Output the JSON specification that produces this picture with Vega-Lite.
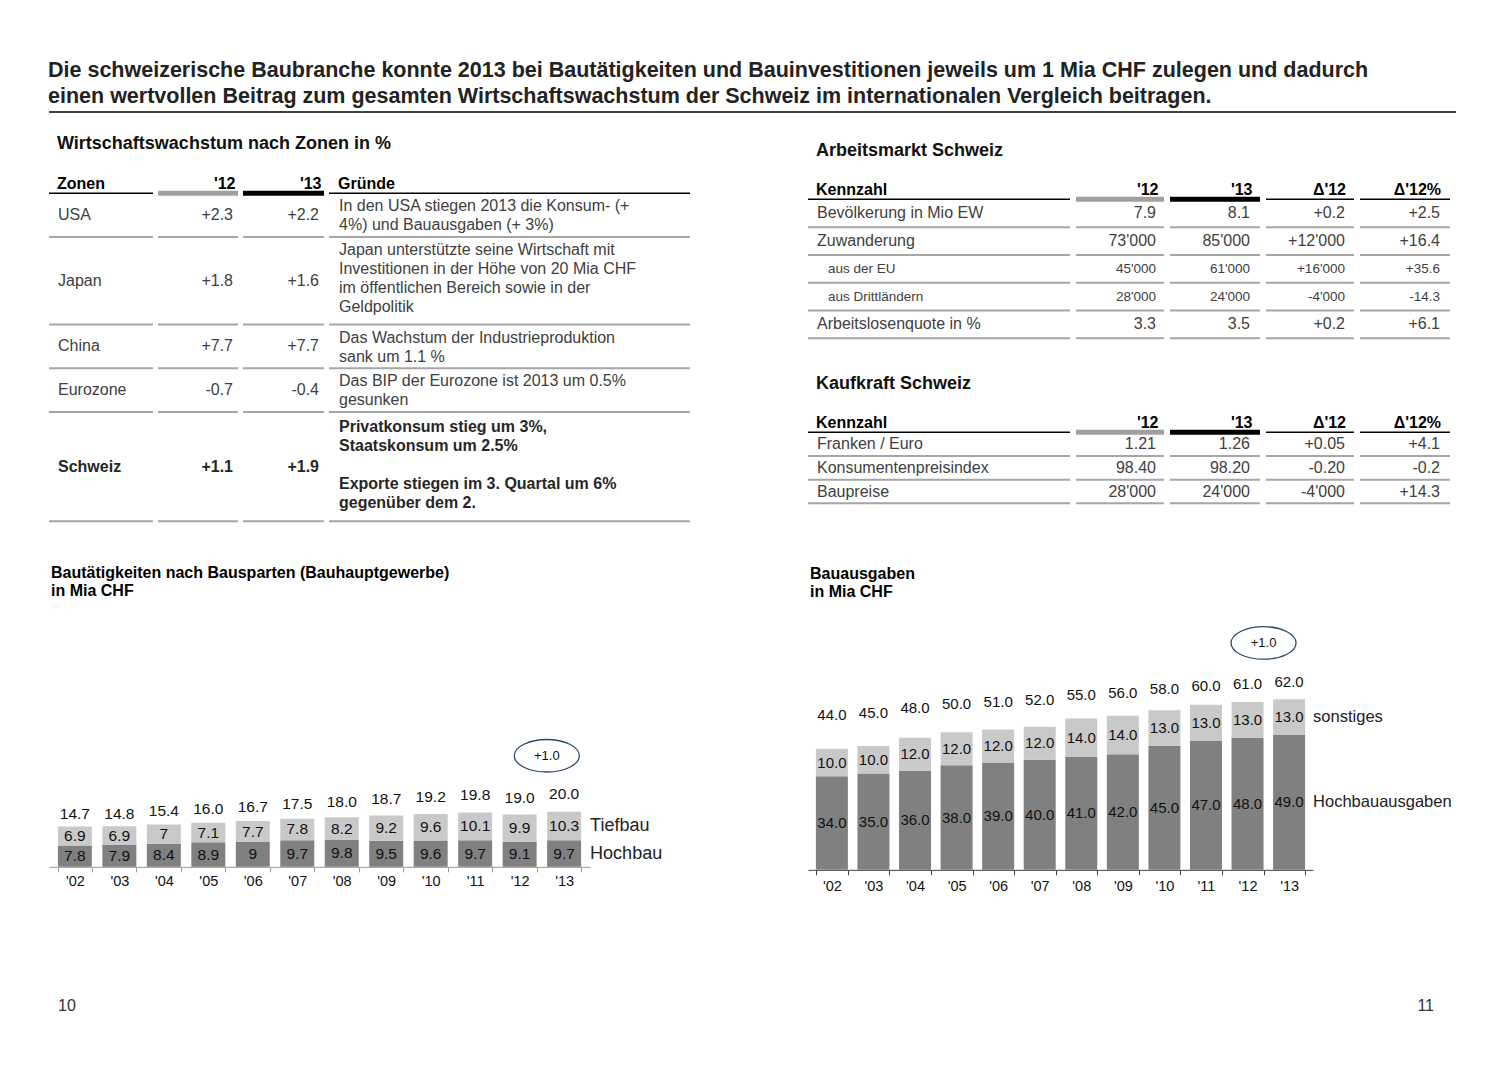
{
  "$schema": "https://vega.github.io/schema/vega-lite/v6.json",
  "background": "white",
  "padding": {"left": 48, "top": 59, "right": 10, "bottom": 10},
  "config": {
    "view": {"stroke": null},
    "font": "Liberation Sans",
    "title": {"font": "Liberation Sans"},
    "text": {"font": "Liberation Sans"}
  },
  "title": {
    "text": ["Die schweizerische Baubranche konnte 2013 bei Bautätigkeiten und Bauinvestitionen jeweils um 1 Mia CHF zulegen und dadurch", "einen wertvollen Beitrag zum gesamten Wirtschaftswachstum der Schweiz im internationalen Vergleich beitragen."],
    "anchor": "start", "fontSize": 21.5, "fontWeight": "bold", "color": "#222222", "lineHeight": 26, "offset": 4
  },
  "datasets": {
    "zonen": [
      {"zone": "USA", "v12": "+2.3", "v13": "+2.2", "gruende": ["In den USA stiegen  2013 die Konsum- (+", "4%) und Bauausgaben (+ 3%)"]},
      {"zone": "Japan", "v12": "+1.8", "v13": "+1.6", "gruende": ["Japan unterstützte seine Wirtschaft mit", "Investitionen in der Höhe von 20 Mia CHF", "im öffentlichen Bereich sowie in der", "Geldpolitik"]},
      {"zone": "China", "v12": "+7.7", "v13": "+7.7", "gruende": ["Das Wachstum der Industrieproduktion", "sank um 1.1 %"]},
      {"zone": "Eurozone", "v12": "-0.7", "v13": "-0.4", "gruende": ["Das BIP der Eurozone ist 2013 um 0.5%", "gesunken"]},
      {"zone": "Schweiz", "v12": "+1.1", "v13": "+1.9", "gruende": ["Privatkonsum stieg um 3%,", "Staatskonsum um 2.5%", "\u200b", "Exporte stiegen im 3. Quartal um 6%", "gegenüber dem 2."]}
    ],
    "arbeit": [
      {"k": "Bevölkerung in Mio EW", "v12": "7.9", "v13": "8.1", "d12": "+0.2", "d12p": "+2.5", "ebene": 1},
      {"k": "Zuwanderung", "v12": "73'000", "v13": "85'000", "d12": "+12'000", "d12p": "+16.4", "ebene": 1},
      {"k": "aus der EU", "v12": "45'000", "v13": "61'000", "d12": "+16'000", "d12p": "+35.6", "ebene": 2},
      {"k": "aus Drittländern", "v12": "28'000", "v13": "24'000", "d12": "-4'000", "d12p": "-14.3", "ebene": 2},
      {"k": "Arbeitslosenquote in %", "v12": "3.3", "v13": "3.5", "d12": "+0.2", "d12p": "+6.1", "ebene": 1}
    ],
    "kaufkraft": [
      {"k": "Franken / Euro", "v12": "1.21", "v13": "1.26", "d12": "+0.05", "d12p": "+4.1", "ebene": 1},
      {"k": "Konsumentenpreisindex", "v12": "98.40", "v13": "98.20", "d12": "-0.20", "d12p": "-0.2", "ebene": 1},
      {"k": "Baupreise", "v12": "28'000", "v13": "24'000", "d12": "-4'000", "d12p": "+14.3", "ebene": 1}
    ],
    "bau": [
      {"jahr": "'02", "sparte": "Hochbau", "wert": 7.8}, {"jahr": "'02", "sparte": "Tiefbau", "wert": 6.9},
      {"jahr": "'03", "sparte": "Hochbau", "wert": 7.9}, {"jahr": "'03", "sparte": "Tiefbau", "wert": 6.9},
      {"jahr": "'04", "sparte": "Hochbau", "wert": 8.4}, {"jahr": "'04", "sparte": "Tiefbau", "wert": 7},
      {"jahr": "'05", "sparte": "Hochbau", "wert": 8.9}, {"jahr": "'05", "sparte": "Tiefbau", "wert": 7.1},
      {"jahr": "'06", "sparte": "Hochbau", "wert": 9}, {"jahr": "'06", "sparte": "Tiefbau", "wert": 7.7},
      {"jahr": "'07", "sparte": "Hochbau", "wert": 9.7}, {"jahr": "'07", "sparte": "Tiefbau", "wert": 7.8},
      {"jahr": "'08", "sparte": "Hochbau", "wert": 9.8}, {"jahr": "'08", "sparte": "Tiefbau", "wert": 8.2},
      {"jahr": "'09", "sparte": "Hochbau", "wert": 9.5}, {"jahr": "'09", "sparte": "Tiefbau", "wert": 9.2},
      {"jahr": "'10", "sparte": "Hochbau", "wert": 9.6}, {"jahr": "'10", "sparte": "Tiefbau", "wert": 9.6},
      {"jahr": "'11", "sparte": "Hochbau", "wert": 9.7}, {"jahr": "'11", "sparte": "Tiefbau", "wert": 10.1},
      {"jahr": "'12", "sparte": "Hochbau", "wert": 9.1}, {"jahr": "'12", "sparte": "Tiefbau", "wert": 9.9},
      {"jahr": "'13", "sparte": "Hochbau", "wert": 9.7}, {"jahr": "'13", "sparte": "Tiefbau", "wert": 10.3}
    ],
    "ausgaben": [
      {"jahr": "'02", "art": "Hochbauausgaben", "wert": 34}, {"jahr": "'02", "art": "sonstiges", "wert": 10},
      {"jahr": "'03", "art": "Hochbauausgaben", "wert": 35}, {"jahr": "'03", "art": "sonstiges", "wert": 10},
      {"jahr": "'04", "art": "Hochbauausgaben", "wert": 36}, {"jahr": "'04", "art": "sonstiges", "wert": 12},
      {"jahr": "'05", "art": "Hochbauausgaben", "wert": 38}, {"jahr": "'05", "art": "sonstiges", "wert": 12},
      {"jahr": "'06", "art": "Hochbauausgaben", "wert": 39}, {"jahr": "'06", "art": "sonstiges", "wert": 12},
      {"jahr": "'07", "art": "Hochbauausgaben", "wert": 40}, {"jahr": "'07", "art": "sonstiges", "wert": 12},
      {"jahr": "'08", "art": "Hochbauausgaben", "wert": 41}, {"jahr": "'08", "art": "sonstiges", "wert": 14},
      {"jahr": "'09", "art": "Hochbauausgaben", "wert": 42}, {"jahr": "'09", "art": "sonstiges", "wert": 14},
      {"jahr": "'10", "art": "Hochbauausgaben", "wert": 45}, {"jahr": "'10", "art": "sonstiges", "wert": 13},
      {"jahr": "'11", "art": "Hochbauausgaben", "wert": 47}, {"jahr": "'11", "art": "sonstiges", "wert": 13},
      {"jahr": "'12", "art": "Hochbauausgaben", "wert": 48}, {"jahr": "'12", "art": "sonstiges", "wert": 13},
      {"jahr": "'13", "art": "Hochbauausgaben", "wert": 49}, {"jahr": "'13", "art": "sonstiges", "wert": 13}
    ]
  },
  "spacing": 102,
  "vconcat": [
    {
      "spacing": 15.35,
      "vconcat": [
        {
          "width": 1407, "height": 1,
          "data": {"values": [{}]},
          "mark": {"type": "rule", "color": "#000000", "strokeWidth": 1.3},
          "encoding": {"y": {"datum": 0, "type": "quantitative", "scale": {"domain": [0, 1]}, "axis": null}}
        },
        {
          "spacing": 116,
          "hconcat": [
            {
              "spacing": 42,
              "vconcat": [
                {
                  "spacing": 5,
                  "vconcat": [
                    {"width": 10, "height": 1, "data": {"values": [{}]}, "mark": {"type": "point", "opacity": 0, "size": 0}},
                    {
                      "title": {"text": "Wirtschaftswachstum nach Zonen in %", "anchor": "start", "dx": 9, "fontSize": 18, "fontWeight": "bold", "color": "#111111", "offset": 23},
                      "data": {"name": "zonen"},
                      "transform": [
                        {"window": [{"op": "row_number", "as": "nr"}]},
                        {"flatten": ["gruende"], "as": ["zeile"]},
                        {"aggregate": [{"op": "count", "as": "n"}], "groupby": ["nr", "zone"]},
                        {"stack": "n", "groupby": [], "sort": [{"field": "nr"}], "as": ["y0", "y1"]},
                        {"fold": ["y0", "y1"], "as": ["kante", "pos"]},
                        {"aggregate": [{"op": "mean", "field": "pos", "as": "mitte"}, {"op": "min", "field": "pos", "as": "oben"}, {"op": "max", "field": "pos", "as": "unten"}], "groupby": ["nr", "zone"]},
                        {"lookup": "zone", "from": {"data": {"name": "zonen"}, "key": "zone", "fields": ["v12", "v13", "gruende"]}}
                      ],
                      "bounds": "flush",
                      "spacing": 5,
                      "hconcat": [
                        {
                          "width": 104, "height": 328,
                          "title": {"text": "Zonen", "anchor": "start", "dx": 9, "fontSize": 16, "fontWeight": "bold", "color": "#000000", "offset": 0.5},
                          "layer": [
                            {"transform": [{"filter": "datum.zone !== 'Schweiz'"}], "mark": {"type": "text", "align": "left", "dx": 9, "fontSize": 16, "color": "#404040"}, "encoding": {"x": {"datum": 0, "type": "quantitative", "scale": {"domain": [0, 1]}, "axis": null}, "y": {"field": "mitte", "type": "quantitative", "axis": null, "scale": {"reverse": true, "nice": false, "zero": true}}, "text": {"field": "zone", "type": "nominal"}}},
                            {"transform": [{"filter": "datum.zone === 'Schweiz'"}], "mark": {"type": "text", "align": "left", "dx": 9, "fontSize": 16, "fontWeight": "bold", "color": "#262626"}, "encoding": {"x": {"datum": 0, "type": "quantitative", "scale": {"domain": [0, 1]}, "axis": null}, "y": {"field": "mitte", "type": "quantitative", "axis": null, "scale": {"reverse": true, "nice": false, "zero": true}}, "text": {"field": "zone", "type": "nominal"}}},
                            {"data": {"values": [{}]}, "mark": {"type": "rule", "color": "#000000", "strokeWidth": 1.5}, "encoding": {"y": {"datum": 0, "type": "quantitative", "axis": null, "scale": {"reverse": true, "nice": false, "zero": true}}}},
                            {"mark": {"type": "rule", "color": "#A6A6A6", "strokeWidth": 2}, "encoding": {"y": {"field": "unten", "type": "quantitative", "axis": null, "scale": {"reverse": true, "nice": false, "zero": true}}}}
                          ]
                        },
                        {
                          "width": 80, "height": 328,
                          "title": {"text": "'12", "anchor": "end", "dx": -5, "fontSize": 16, "fontWeight": "bold", "color": "#000000", "offset": -1},
                          "layer": [
                            {"transform": [{"filter": "datum.zone !== 'Schweiz'"}], "mark": {"type": "text", "align": "right", "dx": -5, "fontSize": 16, "color": "#404040"}, "encoding": {"x": {"datum": 1, "type": "quantitative", "scale": {"domain": [0, 1]}, "axis": null}, "y": {"field": "mitte", "type": "quantitative", "axis": null, "scale": {"reverse": true, "nice": false, "zero": true}}, "text": {"field": "v12", "type": "nominal"}}},
                            {"transform": [{"filter": "datum.zone === 'Schweiz'"}], "mark": {"type": "text", "align": "right", "dx": -5, "fontSize": 16, "fontWeight": "bold", "color": "#262626"}, "encoding": {"x": {"datum": 1, "type": "quantitative", "scale": {"domain": [0, 1]}, "axis": null}, "y": {"field": "mitte", "type": "quantitative", "axis": null, "scale": {"reverse": true, "nice": false, "zero": true}}, "text": {"field": "v12", "type": "nominal"}}},
                            {"data": {"values": [{}]}, "mark": {"type": "rule", "color": "#A0A0A0", "strokeWidth": 5}, "encoding": {"y": {"datum": 0, "type": "quantitative", "axis": null, "scale": {"reverse": true, "nice": false, "zero": true}}}},
                            {"mark": {"type": "rule", "color": "#A6A6A6", "strokeWidth": 2}, "encoding": {"y": {"field": "unten", "type": "quantitative", "axis": null, "scale": {"reverse": true, "nice": false, "zero": true}}}}
                          ]
                        },
                        {
                          "width": 81, "height": 328,
                          "title": {"text": "'13", "anchor": "end", "dx": -5, "fontSize": 16, "fontWeight": "bold", "color": "#000000", "offset": -1},
                          "layer": [
                            {"transform": [{"filter": "datum.zone !== 'Schweiz'"}], "mark": {"type": "text", "align": "right", "dx": -5, "fontSize": 16, "color": "#404040"}, "encoding": {"x": {"datum": 1, "type": "quantitative", "scale": {"domain": [0, 1]}, "axis": null}, "y": {"field": "mitte", "type": "quantitative", "axis": null, "scale": {"reverse": true, "nice": false, "zero": true}}, "text": {"field": "v13", "type": "nominal"}}},
                            {"transform": [{"filter": "datum.zone === 'Schweiz'"}], "mark": {"type": "text", "align": "right", "dx": -5, "fontSize": 16, "fontWeight": "bold", "color": "#262626"}, "encoding": {"x": {"datum": 1, "type": "quantitative", "scale": {"domain": [0, 1]}, "axis": null}, "y": {"field": "mitte", "type": "quantitative", "axis": null, "scale": {"reverse": true, "nice": false, "zero": true}}, "text": {"field": "v13", "type": "nominal"}}},
                            {"data": {"values": [{}]}, "mark": {"type": "rule", "color": "#000000", "strokeWidth": 5}, "encoding": {"y": {"datum": 0, "type": "quantitative", "axis": null, "scale": {"reverse": true, "nice": false, "zero": true}}}},
                            {"mark": {"type": "rule", "color": "#A6A6A6", "strokeWidth": 2}, "encoding": {"y": {"field": "unten", "type": "quantitative", "axis": null, "scale": {"reverse": true, "nice": false, "zero": true}}}}
                          ]
                        },
                        {
                          "width": 361, "height": 328,
                          "title": {"text": "Gründe", "anchor": "start", "dx": 10, "fontSize": 16, "fontWeight": "bold", "color": "#000000", "offset": 0.5},
                          "layer": [
                            {"transform": [{"filter": "datum.zone !== 'Schweiz'"}], "mark": {"type": "text", "align": "left", "dx": 10, "dy": 13, "fontSize": 16, "lineHeight": 19, "color": "#404040"}, "encoding": {"x": {"datum": 0, "type": "quantitative", "scale": {"domain": [0, 1]}, "axis": null}, "y": {"field": "oben", "type": "quantitative", "axis": null, "scale": {"reverse": true, "nice": false, "zero": true}}, "text": {"field": "gruende", "type": "nominal"}}},
                            {"transform": [{"filter": "datum.zone === 'Schweiz'"}], "mark": {"type": "text", "align": "left", "dx": 10, "dy": 15, "fontSize": 16, "lineHeight": 19, "fontWeight": "bold", "color": "#262626"}, "encoding": {"x": {"datum": 0, "type": "quantitative", "scale": {"domain": [0, 1]}, "axis": null}, "y": {"field": "oben", "type": "quantitative", "axis": null, "scale": {"reverse": true, "nice": false, "zero": true}}, "text": {"field": "gruende", "type": "nominal"}}},
                            {"data": {"values": [{}]}, "mark": {"type": "rule", "color": "#000000", "strokeWidth": 1.5}, "encoding": {"y": {"datum": 0, "type": "quantitative", "axis": null, "scale": {"reverse": true, "nice": false, "zero": true}}}},
                            {"mark": {"type": "rule", "color": "#A6A6A6", "strokeWidth": 2}, "encoding": {"y": {"field": "unten", "type": "quantitative", "axis": null, "scale": {"reverse": true, "nice": false, "zero": true}}}}
                          ]
                        }
                      ]
                    }
                  ]
                },
                {
                  "width": 541, "height": 247.5,
                  "title": {"text": ["Bautätigkeiten nach Bausparten (Bauhauptgewerbe)", "in Mia CHF"], "anchor": "start", "dx": 2, "fontSize": 16, "fontWeight": "bold", "color": "#000000", "lineHeight": 18, "offset": 20.5},
                  "data": {"name": "bau"},
                  "resolve": {"scale": {"y": "independent"}},
                  "layer": [
                    {
                      "layer": [
                        {
                          "mark": {"type": "bar"},
                          "encoding": {
                            "x": {"field": "jahr", "type": "ordinal", "scale": {"type": "band", "paddingInner": 0.236, "paddingOuter": 0.2}, "axis": {"title": null, "labelAngle": 0, "labelFontSize": 14.5, "labelColor": "#111111", "domainColor": "#999999", "tickColor": "#999999", "tickBand": "extent", "tickSize": 5, "labelPadding": 3}},
                            "y": {"field": "wert", "type": "quantitative", "stack": "zero", "scale": {"domain": [0, 90]}, "axis": null},
                            "color": {"field": "sparte", "type": "nominal", "scale": {"domain": ["Hochbau", "Tiefbau"], "range": ["#808080", "#C9C9C9"]}, "legend": null},
                            "order": {"field": "sparte", "type": "nominal", "sort": "ascending"}
                          }
                        },
                        {
                          "transform": [
                            {"stack": "wert", "groupby": ["jahr"], "sort": [{"field": "sparte"}], "as": ["s0", "s1"]},
                            {"fold": ["s0", "s1"], "as": ["kante", "pos"]},
                            {"aggregate": [{"op": "mean", "field": "pos", "as": "mitte"}], "groupby": ["jahr", "sparte", "wert"]}
                          ],
                          "mark": {"type": "text", "fontSize": 15.5, "color": "#111111"},
                          "encoding": {
                            "x": {"field": "jahr", "type": "ordinal"},
                            "y": {"field": "mitte", "type": "quantitative", "scale": {"domain": [0, 90]}, "axis": null},
                            "text": {"field": "wert", "type": "nominal"}
                          }
                        },
                        {
                          "transform": [
                            {"stack": "wert", "groupby": ["jahr"], "sort": [{"field": "sparte"}], "as": ["s0", "s1"]},
                            {"fold": ["s0", "s1"], "as": ["kante", "pos"]},
                            {"aggregate": [{"op": "mean", "field": "pos", "as": "mitte"}], "groupby": ["jahr", "sparte", "wert"]},
                            {"filter": "datum.jahr === \"'13\""}
                          ],
                          "mark": {"type": "text", "align": "left", "dx": 9, "fontSize": 18, "color": "#222222"},
                          "encoding": {
                            "x": {"field": "jahr", "type": "ordinal", "bandPosition": 1},
                            "y": {"field": "mitte", "type": "quantitative", "scale": {"domain": [0, 90]}, "axis": null},
                            "text": {"field": "sparte", "type": "nominal"}
                          }
                        },
                        {
                          "data": {"values": [{"jahr": "'12", "differenz": "+1.0"}]},
                          "mark": {"type": "point", "shape": "M -1 0 C -1 -0.276 -0.552 -0.5 0 -0.5 C 0.552 -0.5 1 -0.276 1 0 C 1 0.276 0.552 0.5 0 0.5 C -0.552 0.5 -1 0.276 -1 0 Z", "size": 4225, "filled": false, "stroke": "#2B4870", "strokeWidth": 1.3, "opacity": 1},
                          "encoding": {
                            "x": {"field": "jahr", "type": "ordinal", "bandPosition": 1.3},
                            "y": {"datum": 40.4, "type": "quantitative", "scale": {"domain": [0, 90]}, "axis": null}
                          }
                        },
                        {
                          "data": {"values": [{"jahr": "'12", "differenz": "+1.0"}]},
                          "mark": {"type": "text", "fontSize": 13, "color": "#111111"},
                          "encoding": {
                            "x": {"field": "jahr", "type": "ordinal", "bandPosition": 1.3},
                            "y": {"datum": 40.4, "type": "quantitative", "scale": {"domain": [0, 90]}, "axis": null},
                            "text": {"field": "differenz", "type": "nominal"}
                          }
                        }
                      ]
                    },
                    {
                      "transform": [{"aggregate": [{"op": "sum", "field": "wert", "as": "summe"}], "groupby": ["jahr"]}],
                      "mark": {"type": "text", "fontSize": 15.5, "color": "#111111"},
                      "encoding": {
                        "x": {"field": "jahr", "type": "ordinal"},
                        "y": {"field": "summe", "type": "quantitative", "scale": {"domain": [0.5, 67]}, "axis": null},
                        "text": {"field": "summe", "type": "quantitative", "format": ".1f"}
                      }
                    }
                  ]
                }
              ]
            },
            {
              "spacing": 61,
              "vconcat": [
                {
                  "spacing": 35,
                  "vconcat": [
                    {
                      "spacing": 12,
                      "vconcat": [
                        {"width": 10, "height": 1, "data": {"values": [{}]}, "mark": {"type": "point", "opacity": 0, "size": 0}},
                        {
                          "title": {"text": "Arbeitsmarkt Schweiz", "anchor": "start", "dx": 9, "fontSize": 18, "fontWeight": "bold", "color": "#111111", "offset": 22},
                          "data": {"name": "arbeit"},
                          "transform": [{"window": [{"op": "row_number", "as": "nr"}]}],
                          "bounds": "flush",
                          "spacing": 6,
                          "hconcat": [
                            {
                              "width": 262, "height": 139,
                              "title": {"text": "Kennzahl", "anchor": "start", "dx": 9, "fontSize": 16, "fontWeight": "bold", "color": "#000000", "offset": 0.5},
                              "layer": [
                                {"transform": [{"filter": "datum.ebene === 1"}], "mark": {"type": "text", "align": "left", "dx": 9, "fontSize": 16, "color": "#404040"}, "encoding": {"x": {"datum": 0, "type": "quantitative", "scale": {"domain": [0, 1]}, "axis": null}, "y": {"field": "nr", "type": "ordinal", "axis": null, "scale": {"type": "band", "paddingInner": 0, "paddingOuter": 0}}, "text": {"field": "k", "type": "nominal"}}},
                                {"transform": [{"filter": "datum.ebene === 2"}], "mark": {"type": "text", "align": "left", "dx": 20, "fontSize": 13.5, "color": "#404040"}, "encoding": {"x": {"datum": 0, "type": "quantitative", "scale": {"domain": [0, 1]}, "axis": null}, "y": {"field": "nr", "type": "ordinal", "axis": null, "scale": {"type": "band", "paddingInner": 0, "paddingOuter": 0}}, "text": {"field": "k", "type": "nominal"}}},
                                {"transform": [{"filter": "datum.nr === 1"}], "mark": {"type": "rule", "color": "#000000", "strokeWidth": 1.5}, "encoding": {"y": {"field": "nr", "type": "ordinal", "axis": null, "bandPosition": 0, "scale": {"type": "band", "paddingInner": 0, "paddingOuter": 0}}}},
                                {"mark": {"type": "rule", "color": "#A6A6A6", "strokeWidth": 2}, "encoding": {"y": {"field": "nr", "type": "ordinal", "axis": null, "bandPosition": 1, "scale": {"type": "band", "paddingInner": 0, "paddingOuter": 0}}}}
                              ]
                            },
                            {
                              "width": 88, "height": 139,
                              "title": {"text": "'12", "anchor": "end", "dx": -8, "fontSize": 16, "fontWeight": "bold", "color": "#000000", "offset": -1},
                              "layer": [
                                {"transform": [{"filter": "datum.ebene === 1"}], "mark": {"type": "text", "align": "right", "dx": -8, "fontSize": 16, "color": "#404040"}, "encoding": {"x": {"datum": 1, "type": "quantitative", "scale": {"domain": [0, 1]}, "axis": null}, "y": {"field": "nr", "type": "ordinal", "axis": null, "scale": {"type": "band", "paddingInner": 0, "paddingOuter": 0}}, "text": {"field": "v12", "type": "nominal"}}},
                                {"transform": [{"filter": "datum.ebene === 2"}], "mark": {"type": "text", "align": "right", "dx": -8, "fontSize": 13.5, "color": "#404040"}, "encoding": {"x": {"datum": 1, "type": "quantitative", "scale": {"domain": [0, 1]}, "axis": null}, "y": {"field": "nr", "type": "ordinal", "axis": null, "scale": {"type": "band", "paddingInner": 0, "paddingOuter": 0}}, "text": {"field": "v12", "type": "nominal"}}},
                                {"transform": [{"filter": "datum.nr === 1"}], "mark": {"type": "rule", "color": "#A0A0A0", "strokeWidth": 5}, "encoding": {"y": {"field": "nr", "type": "ordinal", "axis": null, "bandPosition": 0, "scale": {"type": "band", "paddingInner": 0, "paddingOuter": 0}}}},
                                {"mark": {"type": "rule", "color": "#A6A6A6", "strokeWidth": 2}, "encoding": {"y": {"field": "nr", "type": "ordinal", "axis": null, "bandPosition": 1, "scale": {"type": "band", "paddingInner": 0, "paddingOuter": 0}}}}
                              ]
                            },
                            {
                              "width": 90, "height": 139,
                              "title": {"text": "'13", "anchor": "end", "dx": -10, "fontSize": 16, "fontWeight": "bold", "color": "#000000", "offset": -1},
                              "layer": [
                                {"transform": [{"filter": "datum.ebene === 1"}], "mark": {"type": "text", "align": "right", "dx": -10, "fontSize": 16, "color": "#404040"}, "encoding": {"x": {"datum": 1, "type": "quantitative", "scale": {"domain": [0, 1]}, "axis": null}, "y": {"field": "nr", "type": "ordinal", "axis": null, "scale": {"type": "band", "paddingInner": 0, "paddingOuter": 0}}, "text": {"field": "v13", "type": "nominal"}}},
                                {"transform": [{"filter": "datum.ebene === 2"}], "mark": {"type": "text", "align": "right", "dx": -10, "fontSize": 13.5, "color": "#404040"}, "encoding": {"x": {"datum": 1, "type": "quantitative", "scale": {"domain": [0, 1]}, "axis": null}, "y": {"field": "nr", "type": "ordinal", "axis": null, "scale": {"type": "band", "paddingInner": 0, "paddingOuter": 0}}, "text": {"field": "v13", "type": "nominal"}}},
                                {"transform": [{"filter": "datum.nr === 1"}], "mark": {"type": "rule", "color": "#000000", "strokeWidth": 5}, "encoding": {"y": {"field": "nr", "type": "ordinal", "axis": null, "bandPosition": 0, "scale": {"type": "band", "paddingInner": 0, "paddingOuter": 0}}}},
                                {"mark": {"type": "rule", "color": "#A6A6A6", "strokeWidth": 2}, "encoding": {"y": {"field": "nr", "type": "ordinal", "axis": null, "bandPosition": 1, "scale": {"type": "band", "paddingInner": 0, "paddingOuter": 0}}}}
                              ]
                            },
                            {
                              "width": 88, "height": 139,
                              "title": {"text": "Δ'12", "anchor": "end", "dx": -9, "fontSize": 16, "fontWeight": "bold", "color": "#000000", "offset": 0.5},
                              "layer": [
                                {"transform": [{"filter": "datum.ebene === 1"}], "mark": {"type": "text", "align": "right", "dx": -9, "fontSize": 16, "color": "#404040"}, "encoding": {"x": {"datum": 1, "type": "quantitative", "scale": {"domain": [0, 1]}, "axis": null}, "y": {"field": "nr", "type": "ordinal", "axis": null, "scale": {"type": "band", "paddingInner": 0, "paddingOuter": 0}}, "text": {"field": "d12", "type": "nominal"}}},
                                {"transform": [{"filter": "datum.ebene === 2"}], "mark": {"type": "text", "align": "right", "dx": -9, "fontSize": 13.5, "color": "#404040"}, "encoding": {"x": {"datum": 1, "type": "quantitative", "scale": {"domain": [0, 1]}, "axis": null}, "y": {"field": "nr", "type": "ordinal", "axis": null, "scale": {"type": "band", "paddingInner": 0, "paddingOuter": 0}}, "text": {"field": "d12", "type": "nominal"}}},
                                {"transform": [{"filter": "datum.nr === 1"}], "mark": {"type": "rule", "color": "#000000", "strokeWidth": 1.5}, "encoding": {"y": {"field": "nr", "type": "ordinal", "axis": null, "bandPosition": 0, "scale": {"type": "band", "paddingInner": 0, "paddingOuter": 0}}}},
                                {"mark": {"type": "rule", "color": "#A6A6A6", "strokeWidth": 2}, "encoding": {"y": {"field": "nr", "type": "ordinal", "axis": null, "bandPosition": 1, "scale": {"type": "band", "paddingInner": 0, "paddingOuter": 0}}}}
                              ]
                            },
                            {
                              "width": 90, "height": 139,
                              "title": {"text": "Δ'12%", "anchor": "end", "dx": -10, "fontSize": 16, "fontWeight": "bold", "color": "#000000", "offset": 0.5},
                              "layer": [
                                {"transform": [{"filter": "datum.ebene === 1"}], "mark": {"type": "text", "align": "right", "dx": -10, "fontSize": 16, "color": "#404040"}, "encoding": {"x": {"datum": 1, "type": "quantitative", "scale": {"domain": [0, 1]}, "axis": null}, "y": {"field": "nr", "type": "ordinal", "axis": null, "scale": {"type": "band", "paddingInner": 0, "paddingOuter": 0}}, "text": {"field": "d12p", "type": "nominal"}}},
                                {"transform": [{"filter": "datum.ebene === 2"}], "mark": {"type": "text", "align": "right", "dx": -10, "fontSize": 13.5, "color": "#404040"}, "encoding": {"x": {"datum": 1, "type": "quantitative", "scale": {"domain": [0, 1]}, "axis": null}, "y": {"field": "nr", "type": "ordinal", "axis": null, "scale": {"type": "band", "paddingInner": 0, "paddingOuter": 0}}, "text": {"field": "d12p", "type": "nominal"}}},
                                {"transform": [{"filter": "datum.nr === 1"}], "mark": {"type": "rule", "color": "#000000", "strokeWidth": 1.5}, "encoding": {"y": {"field": "nr", "type": "ordinal", "axis": null, "bandPosition": 0, "scale": {"type": "band", "paddingInner": 0, "paddingOuter": 0}}}},
                                {"mark": {"type": "rule", "color": "#A6A6A6", "strokeWidth": 2}, "encoding": {"y": {"field": "nr", "type": "ordinal", "axis": null, "bandPosition": 1, "scale": {"type": "band", "paddingInner": 0, "paddingOuter": 0}}}}
                              ]
                            }
                          ]
                        }
                      ]
                    },
                    {
                      "title": {"text": "Kaufkraft Schweiz", "anchor": "start", "dx": 9, "fontSize": 18, "fontWeight": "bold", "color": "#111111", "offset": 22},
                      "data": {"name": "kaufkraft"},
                      "transform": [{"window": [{"op": "row_number", "as": "nr"}]}],
                      "bounds": "flush",
                      "spacing": 6,
                      "hconcat": [
                        {
                          "width": 262, "height": 71,
                          "title": {"text": "Kennzahl", "anchor": "start", "dx": 9, "fontSize": 16, "fontWeight": "bold", "color": "#000000", "offset": 0.5},
                          "layer": [
                            {"mark": {"type": "text", "align": "left", "dx": 9, "fontSize": 16, "color": "#404040"}, "encoding": {"x": {"datum": 0, "type": "quantitative", "scale": {"domain": [0, 1]}, "axis": null}, "y": {"field": "nr", "type": "ordinal", "axis": null, "scale": {"type": "band", "paddingInner": 0, "paddingOuter": 0}}, "text": {"field": "k", "type": "nominal"}}},
                            {"transform": [{"filter": "datum.nr === 1"}], "mark": {"type": "rule", "color": "#000000", "strokeWidth": 1.5}, "encoding": {"y": {"field": "nr", "type": "ordinal", "axis": null, "bandPosition": 0, "scale": {"type": "band", "paddingInner": 0, "paddingOuter": 0}}}},
                            {"mark": {"type": "rule", "color": "#A6A6A6", "strokeWidth": 2}, "encoding": {"y": {"field": "nr", "type": "ordinal", "axis": null, "bandPosition": 1, "scale": {"type": "band", "paddingInner": 0, "paddingOuter": 0}}}}
                          ]
                        },
                        {
                          "width": 88, "height": 71,
                          "title": {"text": "'12", "anchor": "end", "dx": -8, "fontSize": 16, "fontWeight": "bold", "color": "#000000", "offset": -1},
                          "layer": [
                            {"mark": {"type": "text", "align": "right", "dx": -8, "fontSize": 16, "color": "#404040"}, "encoding": {"x": {"datum": 1, "type": "quantitative", "scale": {"domain": [0, 1]}, "axis": null}, "y": {"field": "nr", "type": "ordinal", "axis": null, "scale": {"type": "band", "paddingInner": 0, "paddingOuter": 0}}, "text": {"field": "v12", "type": "nominal"}}},
                            {"transform": [{"filter": "datum.nr === 1"}], "mark": {"type": "rule", "color": "#A0A0A0", "strokeWidth": 5}, "encoding": {"y": {"field": "nr", "type": "ordinal", "axis": null, "bandPosition": 0, "scale": {"type": "band", "paddingInner": 0, "paddingOuter": 0}}}},
                            {"mark": {"type": "rule", "color": "#A6A6A6", "strokeWidth": 2}, "encoding": {"y": {"field": "nr", "type": "ordinal", "axis": null, "bandPosition": 1, "scale": {"type": "band", "paddingInner": 0, "paddingOuter": 0}}}}
                          ]
                        },
                        {
                          "width": 90, "height": 71,
                          "title": {"text": "'13", "anchor": "end", "dx": -10, "fontSize": 16, "fontWeight": "bold", "color": "#000000", "offset": -1},
                          "layer": [
                            {"mark": {"type": "text", "align": "right", "dx": -10, "fontSize": 16, "color": "#404040"}, "encoding": {"x": {"datum": 1, "type": "quantitative", "scale": {"domain": [0, 1]}, "axis": null}, "y": {"field": "nr", "type": "ordinal", "axis": null, "scale": {"type": "band", "paddingInner": 0, "paddingOuter": 0}}, "text": {"field": "v13", "type": "nominal"}}},
                            {"transform": [{"filter": "datum.nr === 1"}], "mark": {"type": "rule", "color": "#000000", "strokeWidth": 5}, "encoding": {"y": {"field": "nr", "type": "ordinal", "axis": null, "bandPosition": 0, "scale": {"type": "band", "paddingInner": 0, "paddingOuter": 0}}}},
                            {"mark": {"type": "rule", "color": "#A6A6A6", "strokeWidth": 2}, "encoding": {"y": {"field": "nr", "type": "ordinal", "axis": null, "bandPosition": 1, "scale": {"type": "band", "paddingInner": 0, "paddingOuter": 0}}}}
                          ]
                        },
                        {
                          "width": 88, "height": 71,
                          "title": {"text": "Δ'12", "anchor": "end", "dx": -9, "fontSize": 16, "fontWeight": "bold", "color": "#000000", "offset": 0.5},
                          "layer": [
                            {"mark": {"type": "text", "align": "right", "dx": -9, "fontSize": 16, "color": "#404040"}, "encoding": {"x": {"datum": 1, "type": "quantitative", "scale": {"domain": [0, 1]}, "axis": null}, "y": {"field": "nr", "type": "ordinal", "axis": null, "scale": {"type": "band", "paddingInner": 0, "paddingOuter": 0}}, "text": {"field": "d12", "type": "nominal"}}},
                            {"transform": [{"filter": "datum.nr === 1"}], "mark": {"type": "rule", "color": "#000000", "strokeWidth": 1.5}, "encoding": {"y": {"field": "nr", "type": "ordinal", "axis": null, "bandPosition": 0, "scale": {"type": "band", "paddingInner": 0, "paddingOuter": 0}}}},
                            {"mark": {"type": "rule", "color": "#A6A6A6", "strokeWidth": 2}, "encoding": {"y": {"field": "nr", "type": "ordinal", "axis": null, "bandPosition": 1, "scale": {"type": "band", "paddingInner": 0, "paddingOuter": 0}}}}
                          ]
                        },
                        {
                          "width": 90, "height": 71,
                          "title": {"text": "Δ'12%", "anchor": "end", "dx": -10, "fontSize": 16, "fontWeight": "bold", "color": "#000000", "offset": 0.5},
                          "layer": [
                            {"mark": {"type": "text", "align": "right", "dx": -10, "fontSize": 16, "color": "#404040"}, "encoding": {"x": {"datum": 1, "type": "quantitative", "scale": {"domain": [0, 1]}, "axis": null}, "y": {"field": "nr", "type": "ordinal", "axis": null, "scale": {"type": "band", "paddingInner": 0, "paddingOuter": 0}}, "text": {"field": "d12p", "type": "nominal"}}},
                            {"transform": [{"filter": "datum.nr === 1"}], "mark": {"type": "rule", "color": "#000000", "strokeWidth": 1.5}, "encoding": {"y": {"field": "nr", "type": "ordinal", "axis": null, "bandPosition": 0, "scale": {"type": "band", "paddingInner": 0, "paddingOuter": 0}}}},
                            {"mark": {"type": "rule", "color": "#A6A6A6", "strokeWidth": 2}, "encoding": {"y": {"field": "nr", "type": "ordinal", "axis": null, "bandPosition": 1, "scale": {"type": "band", "paddingInner": 0, "paddingOuter": 0}}}}
                          ]
                        }
                      ]
                    }
                  ]
                },
                {
                  "width": 505, "height": 247.5,
                  "title": {"text": ["Bauausgaben", "in Mia CHF"], "anchor": "start", "dx": 2, "fontSize": 16, "fontWeight": "bold", "color": "#000000", "lineHeight": 18, "offset": 22.5},
                  "data": {"name": "ausgaben"},
                  "resolve": {"scale": {"y": "independent"}},
                  "layer": [
                    {
                      "layer": [
                        {
                          "mark": {"type": "bar"},
                          "encoding": {
                            "x": {"field": "jahr", "type": "ordinal", "scale": {"type": "band", "paddingInner": 0.23, "paddingOuter": 0.19}, "axis": {"title": null, "labelAngle": 0, "labelFontSize": 14.5, "labelColor": "#111111", "domainColor": "#404040", "tickColor": "#404040", "tickBand": "extent", "tickSize": 5, "labelPadding": 5}},
                            "y": {"field": "wert", "type": "quantitative", "stack": "zero", "scale": {"domain": [0, 90]}, "axis": null},
                            "color": {"field": "art", "type": "nominal", "scale": {"domain": ["Hochbauausgaben", "sonstiges"], "range": ["#808080", "#D4D4D4"]}, "legend": null},
                            "order": {"field": "art", "type": "nominal", "sort": "ascending"}
                          }
                        },
                        {
                          "transform": [
                            {"stack": "wert", "groupby": ["jahr"], "sort": [{"field": "art"}], "as": ["s0", "s1"]},
                            {"fold": ["s0", "s1"], "as": ["kante", "pos"]},
                            {"aggregate": [{"op": "mean", "field": "pos", "as": "mitte"}], "groupby": ["jahr", "art", "wert"]}
                          ],
                          "mark": {"type": "text", "fontSize": 15, "color": "#111111"},
                          "encoding": {
                            "x": {"field": "jahr", "type": "ordinal"},
                            "y": {"field": "mitte", "type": "quantitative", "scale": {"domain": [0, 90]}, "axis": null},
                            "text": {"field": "wert", "type": "quantitative", "format": ".1f"}
                          }
                        },
                        {
                          "transform": [
                            {"stack": "wert", "groupby": ["jahr"], "sort": [{"field": "art"}], "as": ["s0", "s1"]},
                            {"fold": ["s0", "s1"], "as": ["kante", "pos"]},
                            {"aggregate": [{"op": "mean", "field": "pos", "as": "mitte"}], "groupby": ["jahr", "art", "wert"]},
                            {"filter": "datum.jahr === \"'13\""}
                          ],
                          "mark": {"type": "text", "align": "left", "dx": 8, "fontSize": 16.5, "color": "#222222"},
                          "encoding": {
                            "x": {"field": "jahr", "type": "ordinal", "bandPosition": 1},
                            "y": {"field": "mitte", "type": "quantitative", "scale": {"domain": [0, 90]}, "axis": null},
                            "text": {"field": "art", "type": "nominal"}
                          }
                        },
                        {
                          "data": {"values": [{"jahr": "'12", "differenz": "+1.0"}]},
                          "mark": {"type": "point", "shape": "M -1 0 C -1 -0.276 -0.552 -0.5 0 -0.5 C 0.552 -0.5 1 -0.276 1 0 C 1 0.276 0.552 0.5 0 0.5 C -0.552 0.5 -1 0.276 -1 0 Z", "size": 4225, "filled": false, "stroke": "#2B4870", "strokeWidth": 1.3, "opacity": 1},
                          "encoding": {
                            "x": {"field": "jahr", "type": "ordinal", "bandPosition": 1},
                            "y": {"datum": 82.5, "type": "quantitative", "scale": {"domain": [0, 90]}, "axis": null}
                          }
                        },
                        {
                          "data": {"values": [{"jahr": "'12", "differenz": "+1.0"}]},
                          "mark": {"type": "text", "fontSize": 13, "color": "#111111"},
                          "encoding": {
                            "x": {"field": "jahr", "type": "ordinal", "bandPosition": 1},
                            "y": {"datum": 82.5, "type": "quantitative", "scale": {"domain": [0, 90]}, "axis": null},
                            "text": {"field": "differenz", "type": "nominal"}
                          }
                        }
                      ]
                    },
                    {
                      "transform": [{"aggregate": [{"op": "sum", "field": "wert", "as": "summe"}], "groupby": ["jahr"]}],
                      "mark": {"type": "text", "fontSize": 15, "color": "#111111"},
                      "encoding": {
                        "x": {"field": "jahr", "type": "ordinal"},
                        "y": {"field": "summe", "type": "quantitative", "scale": {"domain": [-40.4, 94.6]}, "axis": null},
                        "text": {"field": "summe", "type": "quantitative", "format": ".1f"}
                      }
                    }
                  ]
                }
              ]
            }
          ]
        }
      ]
    },
    {
      "width": 1407, "height": 20,
      "data": {"values": [{"seite": "10"}, {"seite": "11"}]},
      "layer": [
        {"transform": [{"filter": "datum.seite === '10'"}], "mark": {"type": "text", "align": "left", "dx": 9, "fontSize": 16, "color": "#333333"}, "encoding": {"x": {"datum": 0, "type": "quantitative", "scale": {"domain": [0, 1]}, "axis": null}, "text": {"field": "seite", "type": "nominal"}}},
        {"transform": [{"filter": "datum.seite === '11'"}], "mark": {"type": "text", "align": "right", "dx": -22, "fontSize": 16, "color": "#333333"}, "encoding": {"x": {"datum": 1, "type": "quantitative", "scale": {"domain": [0, 1]}, "axis": null}, "text": {"field": "seite", "type": "nominal"}}}
      ]
    }
  ]
}
